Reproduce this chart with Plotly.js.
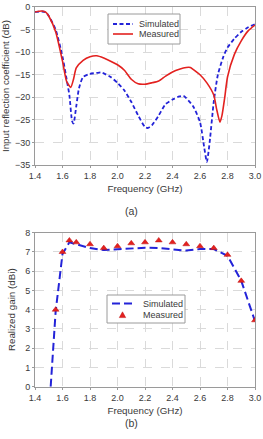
<!DOCTYPE html>
<html>
<head>
<meta charset="utf-8">
<script src="https://cdn.plot.ly/plotly-3.0.1.min.js"></script>
<style>
  html, body { margin: 0; padding: 0; background: #fff; }
  #chart { width: 263px; height: 439px; }
</style>
</head>
<body>
<div id="chart"></div>
<script>
// (a) input reflection coefficient, dB
const s11SimFreq = [1.4, 1.45, 1.48, 1.5, 1.55, 1.6, 1.63, 1.65, 1.67, 1.68, 1.7, 1.72, 1.75, 1.8, 1.85, 1.88, 1.9, 1.95, 2.0, 2.05, 2.1, 2.15, 2.2, 2.22, 2.25, 2.3, 2.35, 2.4, 2.45, 2.48, 2.5, 2.55, 2.6, 2.63, 2.65, 2.67, 2.7, 2.73, 2.77, 2.8, 2.85, 2.9, 2.95, 3.0];
const s11Sim = [-1.1, -1.0, -1.2, -2, -5, -11, -16, -19.5, -25.3, -25.8, -22, -18, -15.5, -14.8, -14.6, -14.5, -14.7, -15.5, -16.8, -18.5, -21, -24, -26.6, -26.8, -26.2, -24, -21.5, -20.5, -19.8, -19.7, -20.2, -22, -25.5, -31, -34.3, -30, -21, -15, -11, -9, -7, -5.5, -4.5, -3.8];

const s11MeasFreq = [1.4, 1.45, 1.48, 1.5, 1.55, 1.6, 1.63, 1.66, 1.68, 1.7, 1.75, 1.8, 1.85, 1.9, 1.95, 2.0, 2.05, 2.1, 2.15, 2.2, 2.25, 2.3, 2.35, 2.4, 2.45, 2.5, 2.53, 2.55, 2.6, 2.65, 2.7, 2.72, 2.745, 2.76, 2.78, 2.8, 2.85, 2.9, 2.95, 3.0];
const s11Meas = [-1.1, -0.9, -1.2, -2, -5.5, -12, -16.5, -17.8, -16, -13.5, -11.8, -11, -10.8, -11.3, -12, -12.8, -14, -16, -17, -17.1, -16.8, -16.4, -15.3, -14.4, -13.8, -13.4, -13.4, -13.8, -15, -16.8, -19.5, -22.5, -25.5, -24, -20, -15.5, -10.5, -7.5, -5.3, -4];

// (b) realized gain, dBi
const gainSimFreq = [1.514, 1.55, 1.6, 1.65, 1.7, 1.8, 1.9, 2.0, 2.1, 2.2, 2.3, 2.4, 2.5, 2.6, 2.7, 2.8, 2.9, 3.0];
const gainSim = [0, 3.9, 6.9, 7.5, 7.4, 7.2, 7.1, 7.15, 7.2, 7.22, 7.2, 7.12, 7.07, 7.15, 7.15, 6.8, 5.5, 3.4];

const gainMeasFreq = [1.55, 1.6, 1.65, 1.7, 1.8, 1.9, 2.0, 2.1, 2.2, 2.3, 2.4, 2.5, 2.6, 2.7, 2.8, 2.9, 3.0];
const gainMeas = [4.0, 7.0, 7.6, 7.5, 7.4, 7.2, 7.3, 7.45, 7.5, 7.6, 7.5, 7.4, 7.3, 7.2, 6.85, 5.5, 3.45];

const freqTicks = [1.4, 1.6, 1.8, 2.0, 2.2, 2.4, 2.6, 2.8, 3.0];
const freqTickText = ['1.4', '1.6', '1.8', '2.0', '2.2', '2.4', '2.6', '2.8', '3.0'];
const seriesNames = ['Simulated', 'Measured'];

const W = 263, H = 439;
const BLUE = '#2323d8';
const RED = '#e3211f';
const FONT = 'Liberation Sans, Arial, sans-serif';
const TEXT = '#3a3a3a';
const FRAME = '#9a9a9a';

const simLineA = { color: BLUE, width: 1.8, dash: '4px,2.5px' };
const measLineA = { color: RED, width: 1.6 };
const simLineB = { color: BLUE, width: 2, dash: '8px,4px' };

const traces = [
  { x: s11SimFreq, y: s11Sim, xaxis: 'x', yaxis: 'y', mode: 'lines', name: seriesNames[0],
    line: Object.assign({ shape: 'spline', smoothing: 0.6 }, simLineA) },
  { x: s11MeasFreq, y: s11Meas, xaxis: 'x', yaxis: 'y', mode: 'lines', name: seriesNames[1],
    line: Object.assign({ shape: 'spline', smoothing: 0.6 }, measLineA) },
  { x: gainSimFreq, y: gainSim, xaxis: 'x2', yaxis: 'y2', mode: 'lines', name: seriesNames[0],
    line: simLineB },
  { x: gainMeasFreq, y: gainMeas, xaxis: 'x2', yaxis: 'y2', mode: 'markers', name: seriesNames[1],
    marker: { symbol: 'triangle-up', size: 6, color: RED, line: { color: '#c01010', width: 0.5 } } }
];

const axisCommon = {
  showgrid: true, gridcolor: '#dadada', griddash: 'dash', gridwidth: 1,
  showline: true, linecolor: FRAME, linewidth: 1, mirror: true,
  ticks: 'outside', ticklen: 2, tickcolor: FRAME,
  tickfont: { family: FONT, size: 9, color: TEXT },
  zeroline: false, fixedrange: true
};
const xCommon = Object.assign({}, axisCommon, { range: [1.4, 3.0], tickvals: freqTicks, ticktext: freqTickText });
const titleFont = { family: FONT, size: 9.8, color: TEXT };

// pixel -> paper helpers for the boxed legends
const px = v => v / W;
const py = v => 1 - v / H;

function legendBox(x0, y0, x1, y1) {
  return { type: 'rect', xref: 'paper', yref: 'paper', x0: px(x0), x1: px(x1), y0: py(y0), y1: py(y1),
    line: { color: FRAME, width: 1 }, fillcolor: '#fff', layer: 'above' };
}
function legendLine(x0, x1, y, line) {
  return { type: 'line', xref: 'paper', yref: 'paper', x0: px(x0), x1: px(x1), y0: py(y), y1: py(y),
    line: line, layer: 'above' };
}
function legendLabel(text, x, y) {
  return { text: text, xref: 'paper', yref: 'paper', x: px(x), y: py(y), xanchor: 'left', yanchor: 'middle',
    showarrow: false, font: { family: FONT, size: 9, color: TEXT } };
}

const shapes = [
  legendBox(108, 14, 180, 44),
  legendLine(113, 133, 24, simLineA),
  legendLine(113, 133, 34, measLineA),
  legendBox(107, 295, 185, 323),
  legendLine(112, 133, 303.5, simLineB),
  { type: 'path', xref: 'paper', yref: 'paper', xsizemode: 'pixel', ysizemode: 'pixel',
    xanchor: px(122.5), yanchor: py(315), path: 'M -3.2 -2.6 L 3.2 -2.6 L 0 3.2 Z',
    fillcolor: RED, line: { color: '#c01010', width: 0.5 }, layer: 'above' }
];

const layout = {
  width: W, height: H,
  margin: { l: 0, r: 0, t: 0, b: 0 },
  paper_bgcolor: '#fff', plot_bgcolor: '#fff',
  showlegend: false,
  xaxis: Object.assign({}, xCommon, { domain: [0.1331, 0.9696], anchor: 'y',
    title: { text: 'Frequency (GHz)', font: titleFont, standoff: 5 } }),
  yaxis: Object.assign({}, axisCommon, { domain: [0.6241, 0.9841], anchor: 'x',
    range: [-35, 0], tickvals: [-35, -30, -25, -20, -15, -10, -5, 0],
    title: { text: 'Input reflection coefficient (dB)', font: titleFont, standoff: 3 } }),
  xaxis2: Object.assign({}, xCommon, { domain: [0.1331, 0.9696], anchor: 'y2',
    title: { text: 'Frequency (GHz)', font: titleFont, standoff: 5 } }),
  yaxis2: Object.assign({}, axisCommon, { domain: [0.1191, 0.4699], anchor: 'x2',
    range: [0, 8], tickvals: [0, 1, 2, 3, 4, 5, 6, 7, 8],
    title: { text: 'Realized gain (dBi)', font: titleFont, standoff: 7 } }),
  shapes: shapes,
  annotations: [
    legendLabel(seriesNames[0], 137, 24),
    legendLabel(seriesNames[1], 137, 34),
    legendLabel(seriesNames[0], 141, 303.5),
    legendLabel(seriesNames[1], 141, 315),
    { text: '(a)', xref: 'paper', yref: 'paper', x: px(131), y: py(211),
      showarrow: false, font: { family: FONT, size: 10.5, color: TEXT } },
    { text: '(b)', xref: 'paper', yref: 'paper', x: px(131), y: py(431),
      showarrow: false, font: { family: FONT, size: 10.5, color: TEXT } }
  ]
};

Plotly.newPlot('chart', traces, layout, { displayModeBar: false, staticPlot: true });
</script>
</body>
</html>
